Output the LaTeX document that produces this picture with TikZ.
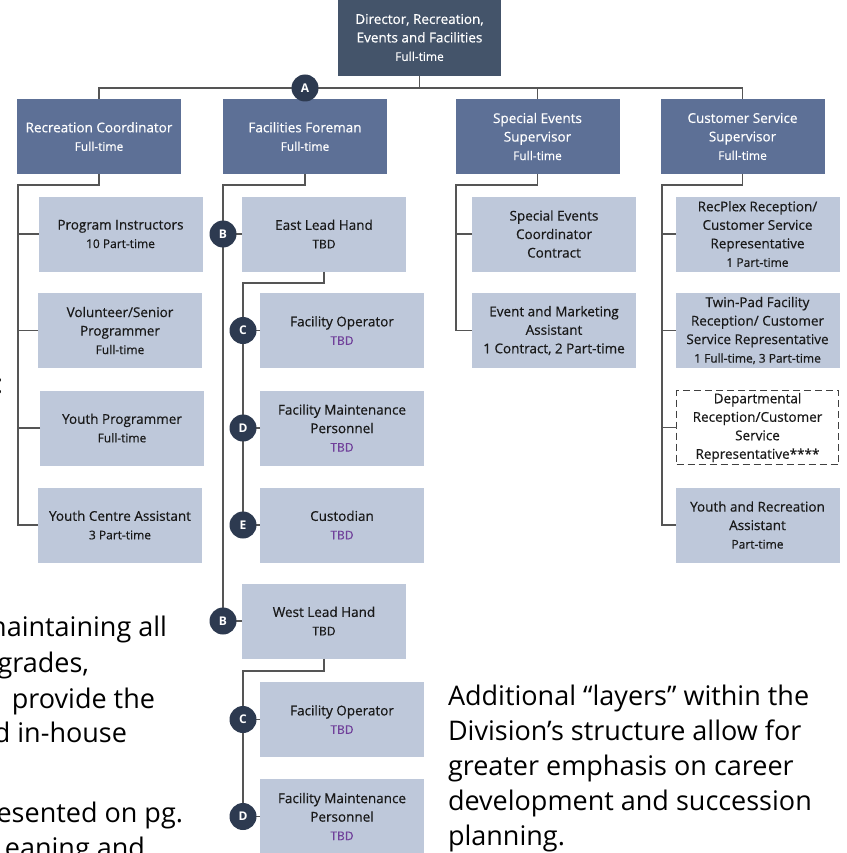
\documentclass[tikz,border=0pt]{standalone}
\usepackage{fontspec}
\setmainfont{Open Sans}
\newfontfamily\boxfont[FakeBold=0.5]{Open Sans}
\usepackage{tikz}
\usetikzlibrary{positioning, calc}

\definecolor{dirblue}{HTML}{44546A}
\definecolor{supblue}{HTML}{5D7096}
\definecolor{staffblue}{HTML}{BEC8DA}
\definecolor{badgenavy}{HTML}{2D3A50}
\definecolor{tbdpurple}{HTML}{70409A}
\definecolor{linegray}{HTML}{555555}

\newcommand{\subline}[1]{{\fontsize{12}{18.5}\selectfont #1}}
\newcommand{\tbd}{\subline{\textcolor{tbdpurple}{TBD}}}

\begin{document}
\begin{tikzpicture}[x=1pt,y=-1pt,
  every node/.style={inner sep=0pt,outer sep=0pt},
  box/.style={minimum width=164pt,minimum height=75pt,align=center,font=\boxfont\fontsize{13.5}{18.5}\selectfont},
  dirbox/.style={box,fill=dirblue,text=white,minimum width=163pt,minimum height=77pt},
  supbox/.style={box,fill=supblue,text=white},
  staffbox/.style={box,fill=staffblue,text=black!90},
  dashbox/.style={box,fill=white,draw=black!75,line width=1.5pt,dash pattern=on 7pt off 4pt,text=black!90,minimum width=162pt,minimum height=74pt},
  badge/.style={circle,fill=badgenavy,text=white,minimum size=27pt,font=\fontsize{12}{12}\bfseries\selectfont},
  conn/.style={draw=linegray,line width=1.2pt},
  para/.style={font=\fontsize{27}{35}\selectfont,text=black}]
  \useasboundingbox (0,0) rectangle (846,853);
  \clip (0,0) rectangle (846,853);

  \node[dirbox] (dir) at (419.5,37.5) {Director, Recreation,\\Events and Facilities\\\subline{Full-time}};
  \node[supbox] (rec) at (99,136.5) {Recreation Coordinator\\\subline{Full-time}};
  \node[supbox] (fac) at (305,136.5) {Facilities Foreman\\\subline{Full-time}};
  \node[supbox] (spe) at (537.5,136.5) {Special Events\\Supervisor\\\subline{Full-time}};
  \node[supbox] (cus) at (742.5,136.5) {Customer Service\\Supervisor\\\subline{Full-time}};

  \node[staffbox] (prog) at (120.5,234) {Program Instructors\\\subline{10 Part-time}};
  \node[staffbox] (volu) at (120,330.5) {Volunteer/Senior\\Programmer\\\subline{Full-time}};
  \node[staffbox] (youp) at (122,428) {Youth Programmer\\\subline{Full-time}};
  \node[staffbox] (yca) at (120,525) {Youth Centre Assistant\\\subline{3 Part-time}};

  \node[staffbox] (east) at (324,234) {East Lead Hand\\\subline{TBD}};
  \node[staffbox] (fop1) at (342,330.5) {Facility Operator\\\tbd};
  \node[staffbox] (fmp1) at (342,428) {Facility Maintenance\\Personnel\\\tbd};
  \node[staffbox] (cust) at (342,525) {Custodian\\\tbd};
  \node[staffbox] (west) at (324,621) {West Lead Hand\\\subline{TBD}};
  \node[staffbox] (fop2) at (342,719.5) {Facility Operator\\\tbd};
  \node[staffbox] (fmp2) at (342,816.5) {Facility Maintenance\\Personnel\\\tbd};

  \node[staffbox] (sec) at (554,234) {Special Events\\Coordinator\\Contract};
  \node[staffbox] (ema) at (554,330.5) {Event and Marketing\\Assistant\\1 Contract, 2 Part-time};

  \node[staffbox] (recp) at (757.5,234) {RecPlex Reception/\\Customer Service\\Representative\\\subline{1 Part-time}};
  \node[staffbox] (twin) at (757.5,330.5) {Twin-Pad Facility\\Reception/ Customer\\Service Representative\\\subline{1 Full-time, 3 Part-time}};
  \node[dashbox] (dept) at (757.5,427.5) {Departmental\\Reception/Customer\\Service\\Representative****};
  \node[staffbox] (yra) at (757.5,525) {Youth and Recreation\\Assistant\\\subline{Part-time}};

  \coordinate (topbus) at (419.5,88);
  \coordinate (recbend) at (18,185);
  \coordinate (facbend) at (223,185);
  \coordinate (eastbend) at (243,283);
  \coordinate (westbend) at (243,671);
  \coordinate (spebend) at (456,185);
  \coordinate (cusbend) at (662,185);

  \draw[conn] (dir) -- (topbus);
  \draw[conn] (rec.north) |- (topbus) -| (cus.north);
  \draw[conn] (fac.north) -- (fac.north |- topbus);
  \draw[conn] (spe.north) -- (spe.north |- topbus);

  \draw[conn] (rec.south) |- (recbend) |- (yca.west);
  \foreach \n in {prog,volu,youp} \draw[conn] (\n.west) -- (\n.west -| recbend);
  \draw[conn] (fac.south) |- (facbend) |- (west.west);
  \draw[conn] (east.west) -- (east.west -| facbend);
  \draw[conn] (east.south) |- (eastbend) |- (cust.west);
  \foreach \n in {fop1,fmp1} \draw[conn] (\n.west) -- (\n.west -| eastbend);
  \draw[conn] (west.south) |- (westbend) |- (fmp2.west);
  \draw[conn] (fop2.west) -- (fop2.west -| westbend);
  \draw[conn] (spe.south) |- (spebend) |- (ema.west);
  \draw[conn] (sec.west) -- (sec.west -| spebend);
  \draw[conn] (cus.south) |- (cusbend) |- (yra.west);
  \foreach \n in {recp,twin,dept} \draw[conn] (\n.west) -- (\n.west -| cusbend);

  \node[badge] (A) at (fac.north |- topbus) {A};
  \node[badge] (B1) at (east.west -| facbend) {B};
  \node[badge] (C1) at (fop1.west -| eastbend) {C};
  \node[badge] (D1) at (fmp1.west -| eastbend) {D};
  \node[badge] (E1) at (cust.west -| eastbend) {E};
  \node[badge] (B2) at (west.west -| facbend) {B};
  \node[badge] (C2) at (fop2.west -| westbend) {C};
  \node[badge] (D2) at (fmp2.west -| westbend) {D};

  \node[para,anchor=base west,align=left] (note) at (448,845) {Additional “layers” within the\\Division’s structure allow for\\greater emphasis on career\\development and succession\\planning.};

  \node[para,anchor=base east] (frag0) at (3,393) {:};
  \node[para,anchor=base east] (frag1) at (167,636) {naintaining all};
  \node[para,anchor=base east] (frag2) at (89,672) {grades,};
  \node[para,anchor=base east] (frag3) at (155,708) {provide the};
  \node[para,anchor=base east] (frag4) at (127,742) {d in-house};
  \node[para,anchor=base east] (frag5) at (183,822) {esented on pg.};
  \node[para,anchor=base east] (frag6) at (145,857) {eaning and};
\end{tikzpicture}
\end{document}
